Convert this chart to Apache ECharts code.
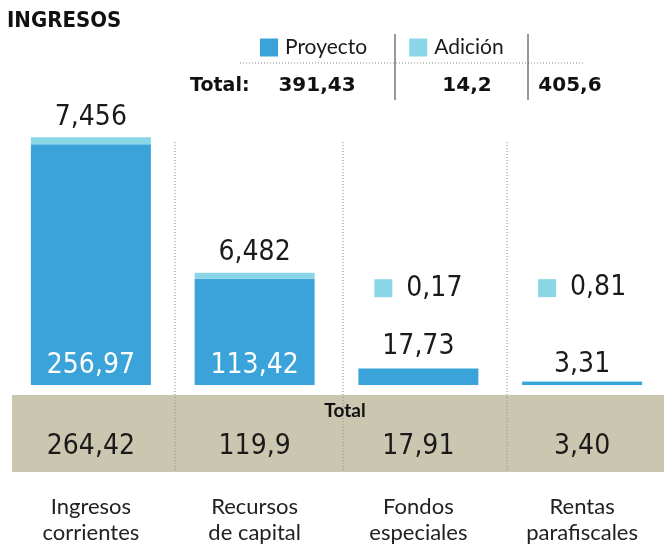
<!DOCTYPE html>
<html>
<head>
<meta charset="utf-8">
<script src="https://cdn.jsdelivr.net/npm/echarts@6/dist/echarts.min.js"></script>
<style>
  html, body { margin: 0; padding: 0; background: #fff; }
  #chart { width: 664px; height: 551px; }
</style>
</head>
<body>
<div id="chart"></div>
<script>
// datos
const categorias = ['Ingresos\ncorrientes', 'Recursos\nde capital', 'Fondos\nespeciales', 'Rentas\nparafiscales']
const proyecto = [256.97, 113.42, 17.73, 3.31]
const adicion = [7.456, 6.482, 0.17, 0.81]
const totales = ['264,42', '119,9', '17,91', '3,40']
const totalCabecera = ['391,43', '14,2', '405,6']

const AZUL = '#3aa3da'
const CIAN = '#8ad6e6'
const NUM_FONT = "'DejaVu Sans Condensed', sans-serif"
const TXT_FONT = "Lato, 'Noto Sans', sans-serif"
const NUM_SIZE = 28

const fmt = v => String(v).replace('.', ',')

// etiquetas: las dos primeras barras llevan el valor dentro, las pequeñas encima
const proyectoLabel = [
  { show: true, position: 'insideBottom', distance: 5, color: '#fff' },
  { show: true, position: 'insideBottom', distance: 5, color: '#fff' },
  { show: true, position: 'top', distance: 8, color: '#1a1a1a' },
  { show: true, position: 'top', distance: 3, color: '#1a1a1a' }
]
const adicionLabel = [
  { show: true, position: 'top', distance: 6 },
  { show: true, position: 'top', distance: 6 },
  { show: true, position: 'top', distance: 66, formatter: p => '{sq|}{v|' + fmt(p.value) + '}' },
  { show: true, position: 'top', distance: 79, formatter: p => '{sq|}{v|' + fmt(p.value) + '}' }
]

const option = {
  animation: false,
  grid: { left: 9, width: 664, top: 104, bottom: 166 },
  legend: {
    left: 255, top: 32,
    itemWidth: 18, itemHeight: 18, itemGap: 42,
    icon: 'rect',
    textStyle: { fontSize: 21, fontFamily: TXT_FONT, color: '#1a1a1a', padding: [0, 0, 0, 2] },
    data: ['Proyecto', 'Adición']
  },
  xAxis: {
    type: 'category',
    data: categorias,
    axisLine: { show: false },
    axisTick: { show: false },
    axisLabel: {
      interval: 0,
      margin: 44,
      formatter: (v, i) => {
        const [a, b] = v.split('\n')
        return '{tot|' + totales[i] + '}\n{gap| }\n{cat|' + a + '}\n{cat|' + b + '}'
      },
      rich: {
        tot: { fontSize: NUM_SIZE, fontFamily: NUM_FONT, color: '#1a1a1a', lineHeight: 36 },
        gap: { fontSize: 10, lineHeight: 29 },
        cat: { fontSize: 22, fontFamily: TXT_FONT, color: '#222', lineHeight: 26 }
      }
    }
  },
  yAxis: { type: 'value', min: 0, max: 300, show: false },
  series: [
    {
      name: 'Proyecto',
      type: 'bar',
      stack: 'ingresos',
      barWidth: 120,
      itemStyle: { color: AZUL },
      label: {
        fontSize: NUM_SIZE, fontFamily: NUM_FONT,
        formatter: p => fmt(p.value)
      },
      data: proyecto.map((v, i) => ({ value: v, label: proyectoLabel[i] }))
    },
    {
      name: 'Adición',
      type: 'bar',
      stack: 'ingresos',
      barWidth: 120,
      itemStyle: { color: CIAN },
      label: {
        fontSize: NUM_SIZE, fontFamily: NUM_FONT, color: '#1a1a1a',
        formatter: p => fmt(p.value),
        rich: {
          sq: { width: 18, height: 18, backgroundColor: CIAN },
          v: { fontSize: NUM_SIZE, fontFamily: NUM_FONT, color: '#1a1a1a', padding: [0, 0, 0, 14] }
        }
      },
      data: adicion.map((v, i) => ({ value: v, label: adicionLabel[i] }))
    }
  ],
  graphic: [
    // franja de totales
    { type: 'rect', z: -10, shape: { x: 12, y: 395, width: 652, height: 77 }, style: { fill: '#cbc6b0' } },
    { type: 'text', x: 345, y: 411, style: { text: 'Total', font: "bold 19px " + TXT_FONT, fill: '#111', align: 'center', verticalAlign: 'middle' } },
    // separadores punteados
    { type: 'line', z: -5, shape: { x1: 175, y1: 142, x2: 175, y2: 472 }, style: { stroke: '#888', lineWidth: 1, lineDash: [1, 2] } },
    { type: 'line', z: -5, shape: { x1: 343, y1: 142, x2: 343, y2: 472 }, style: { stroke: '#888', lineWidth: 1, lineDash: [1, 2] } },
    { type: 'line', z: -5, shape: { x1: 507, y1: 142, x2: 507, y2: 472 }, style: { stroke: '#888', lineWidth: 1, lineDash: [1, 2] } },
    // titulo
    { type: 'text', x: 7, y: 10, style: { text: 'INGRESOS', font: "bold 22px " + NUM_FONT, fill: '#111' } },
    // cabecera
    { type: 'line', shape: { x1: 240, y1: 63, x2: 585, y2: 63 }, style: { stroke: '#888', lineWidth: 1, lineDash: [1, 2] } },
    { type: 'line', shape: { x1: 395, y1: 34, x2: 395, y2: 100 }, style: { stroke: '#333', lineWidth: 1 } },
    { type: 'line', shape: { x1: 528, y1: 34, x2: 528, y2: 100 }, style: { stroke: '#333', lineWidth: 1 } },
    { type: 'text', x: 190, y: 86, style: { text: 'Total:', font: "bold 19px 'DejaVu Sans'", fill: '#111', verticalAlign: 'middle' } },
    { type: 'text', x: 317, y: 86, style: { text: totalCabecera[0], font: "bold 20px 'DejaVu Sans'", fill: '#111', align: 'center', verticalAlign: 'middle' } },
    { type: 'text', x: 467, y: 86, style: { text: totalCabecera[1], font: "bold 20px 'DejaVu Sans'", fill: '#111', align: 'center', verticalAlign: 'middle' } },
    { type: 'text', x: 570, y: 86, style: { text: totalCabecera[2], font: "bold 20px 'DejaVu Sans'", fill: '#111', align: 'center', verticalAlign: 'middle' } }
  ]
}

const myChart = echarts.init(document.getElementById('chart'))
myChart.setOption(option)
</script>
</body>
</html>
